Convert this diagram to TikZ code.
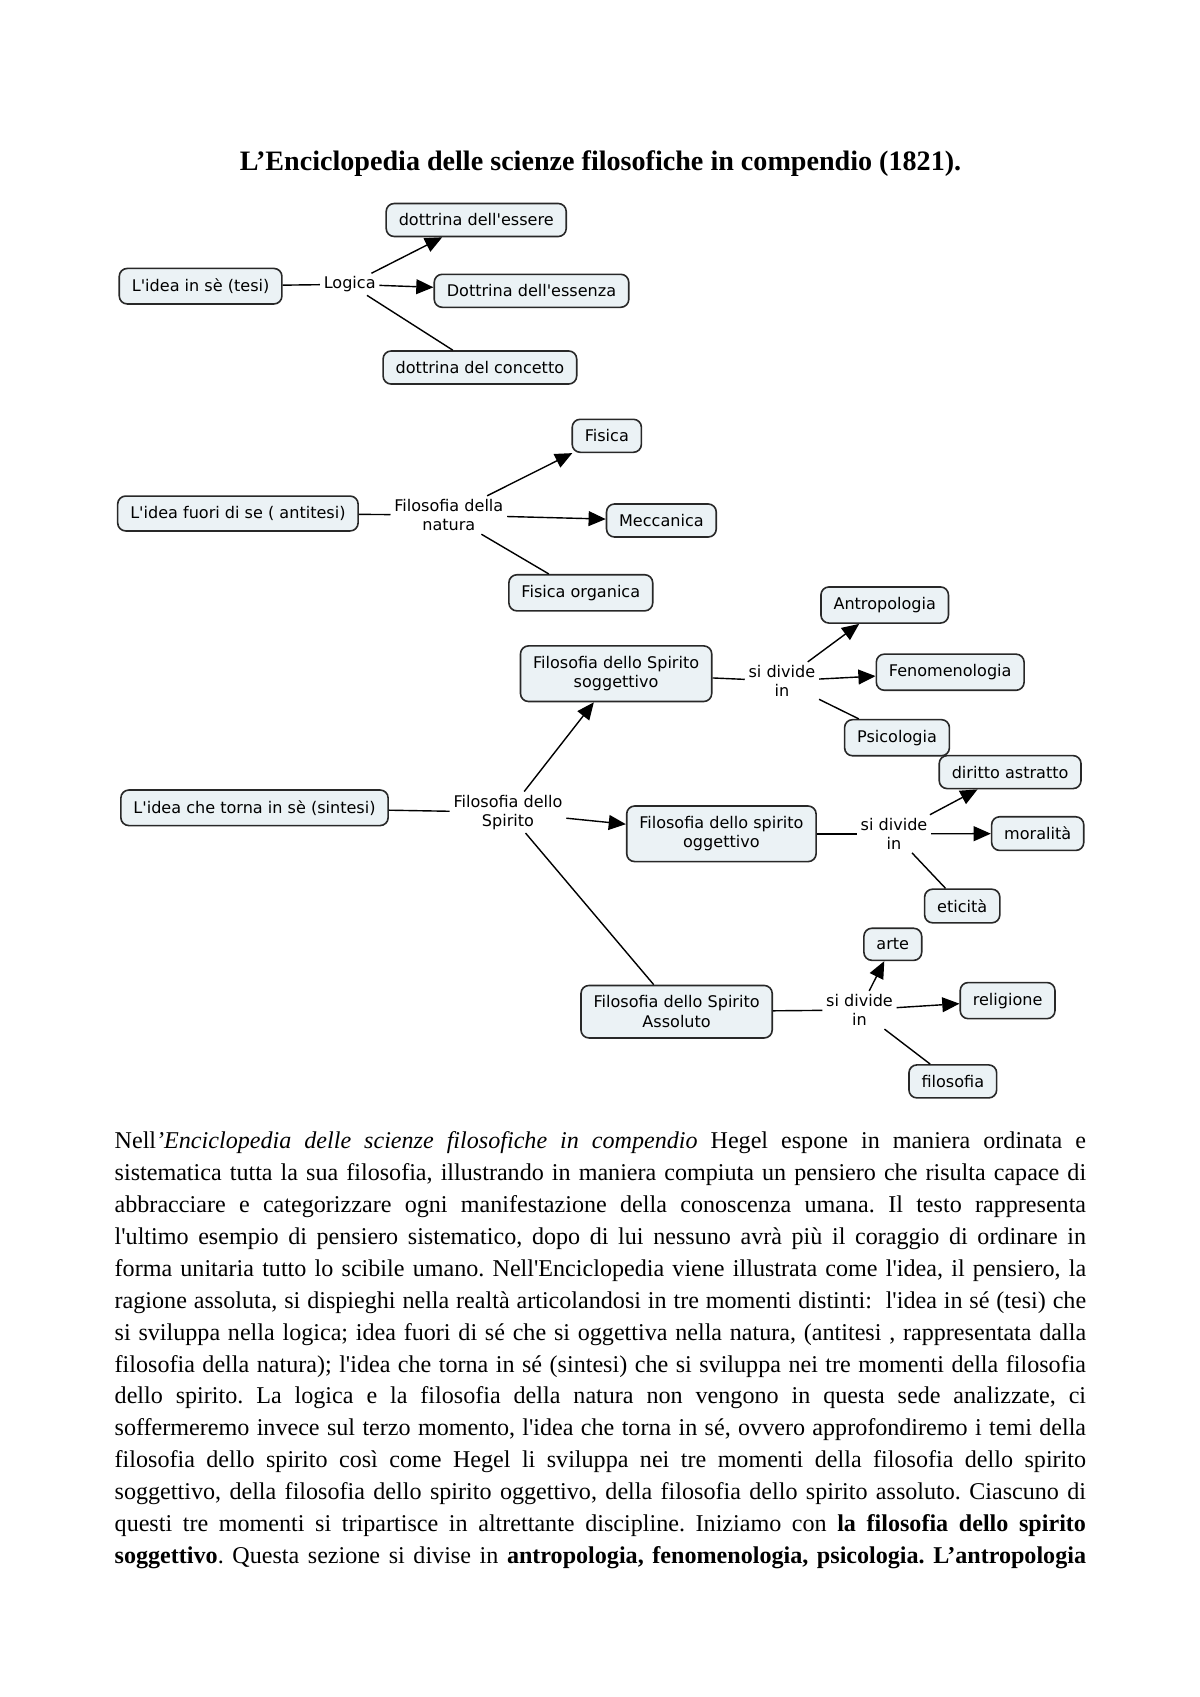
\documentclass[tikz,border=0pt]{standalone}
\usepackage{fontspec}
\setmainfont{Liberation Serif}[Ligatures=TeXOff]
\newfontfamily\mapfamily{DejaVu Sans}[Ligatures=TeXOff]
\usetikzlibrary{arrows.meta}
\definecolor{conceptfill}{RGB}{235,242,245}
\definecolor{conceptdraw}{RGB}{40,40,40}
\tikzset{
	>={Triangle[length=3mm, width=2.6mm]},
	every node/.append style={
		font=\mapfamily\fontsize{8pt}{9.7pt}\selectfont,
	},
	concept/.append style={
		draw=conceptdraw,
		fill=conceptfill,
		line width=0.8pt,
		rounded corners=1.4mm,
		align = center,
		inner xsep=2.2mm,
		inner ysep=1.8mm,
	},
	link/.append style={
		align = center,
		inner xsep=0.6mm,
		inner ysep=0.5mm,
	},
	conn/.append style={
		line width=0.7pt,
		draw=black,
	},
	page/.append style={
		font=\rmfamily\fontsize{12pt}{15.9pt}\selectfont,
		text width=170mm,
		align = justify,
		inner sep=0pt,
		anchor=base west,
	}
}

\begin{document}
\begin{tikzpicture}[x=0.0175cm, y=-0.0175cm]
		\path[fill=white] (0,0) rectangle (1200,1697);
		\node(titolo)[anchor=base, font=\rmfamily\bfseries\fontsize{14pt}{16pt}\selectfont] at (600.5,170) {L’Enciclopedia delle scienze filosofiche in compendio (1821).};

		% tesi
		\node(tesi)[concept] at (200.6,286.2) {L'idea in sè (tesi)};
		\node(logica)[link] at (349.7,284.3) {Logica};
		\node(essere)[concept] at (476.2,220) {dottrina dell'essere};
		\node(essenza)[concept] at (531.5,290.8) {Dottrina dell'essenza};
		\node(concetto)[concept] at (479.9,367.5) {dottrina del concetto};

		% antitesi
		\node(antitesi)[concept] at (237.9,513.5) {L'idea fuori di se ( antitesi)};
		\node(natura)[link] at (448.8,515) {Filosofia della\\natura};
		\node(fisica)[concept] at (606.8,435.8) {Fisica};
		\node(meccanica)[concept] at (661.4,520.5) {Meccanica};
		\node(organica)[concept] at (580.8,592.8) {Fisica organica};

		% sintesi
		\node(sintesi)[concept] at (254.5,807.8) {L'idea che torna in sè (sintesi)};
		\node(spirito)[link] at (508,812.3) {Filosofia dello\\Spirito};
		\node(soggettivo)[concept] at (616.1,673.7) {Filosofia dello Spirito\\soggettivo};
		\node(oggettivo)[concept] at (721.4,833.8) {Filosofia dello spirito\\oggettivo};
		\node(assoluto)[concept] at (676.6,1011.7) {Filosofia dello Spirito\\Assoluto};

		\node(divsog)[link] at (781.9,681) {si divide\\in};
		\node(antropologia)[concept] at (884.7,605) {Antropologia};
		\node(fenomenologia)[concept] at (950.2,672.2) {Fenomenologia};
		\node(psicologia)[concept] at (897,737.7) {Psicologia};

		\node(divogg)[link] at (894,833.8) {si divide\\in};
		\node(diritto)[concept] at (1010.1,772.1) {diritto astratto};
		\node(moralita)[concept] at (1037.7,833.6) {moralità};
		\node(eticita)[concept] at (962.2,906) {eticità};

		\node(divass)[link] at (859.5,1010) {si divide\\in};
		\node(arte)[concept] at (892.8,944.3) {arte};
		\node(religione)[concept] at (1007.6,1000.6) {religione};
		\node(filosofia)[concept] at (952.8,1081.4) {filosofia};

		\draw[conn] (tesi) edge (logica);
		\draw[conn, ->] (logica) edge (essere);
		\draw[conn, ->] (logica) edge (essenza);
		\draw[conn] (logica) edge (concetto);

		\draw[conn] (antitesi) edge (natura);
		\draw[conn, ->] (natura) edge (fisica);
		\draw[conn, ->] (natura) edge (meccanica);
		\draw[conn] (natura) edge (organica);

		\draw[conn] (sintesi) edge (spirito);
		\draw[conn, ->] (spirito) edge (soggettivo);
		\draw[conn, ->] (spirito) edge (oggettivo);
		\draw[conn] (spirito) edge (assoluto);

		\draw[conn] (soggettivo) edge (divsog);
		\draw[conn, ->] (divsog) edge (antropologia);
		\draw[conn, ->] (divsog) edge (fenomenologia);
		\draw[conn] (divsog) edge (psicologia);

		\draw[conn] (oggettivo) edge (divogg);
		\draw[conn, ->] (divogg) edge (diritto);
		\draw[conn, ->] (divogg) edge (moralita);
		\draw[conn] (divogg) edge (eticita);

		\draw[conn] (assoluto) edge (divass);
		\draw[conn, ->] (divass) edge (arte);
		\draw[conn, ->] (divass) edge (religione);
		\draw[conn] (divass) edge (filosofia);

		% testo
		\node(testo)[page] at (114.3,1148.5) {\frenchspacing\tolerance=9999\hyphenpenalty=10000
		Nell\textit{’Enciclopedia delle scienze filosofiche in compendio} Hegel espone in maniera ordinata e\linebreak
		sistematica tutta la sua filosofia, illustrando in maniera compiuta un pensiero che risulta capace di\linebreak
		abbracciare e categorizzare ogni manifestazione della conoscenza umana. Il testo rappresenta\linebreak
		l'ultimo esempio di pensiero sistematico, dopo di lui nessuno avrà più il coraggio di ordinare in\linebreak
		forma unitaria tutto lo scibile umano. Nell'Enciclopedia viene illustrata come l'idea, il pensiero, la\linebreak
		ragione assoluta, si dispieghi nella realtà articolandosi in tre momenti distinti:\ \ l'idea in sé (tesi) che\linebreak
		si sviluppa nella logica; idea fuori di sé che si oggettiva nella natura, (antitesi , rappresentata dalla\linebreak
		filosofia della natura); l'idea che torna in sé (sintesi) che si sviluppa nei tre momenti della filosofia\linebreak
		dello spirito. La logica e la filosofia della natura non vengono in questa sede analizzate, ci\linebreak
		soffermeremo invece sul terzo momento, l'idea che torna in sé, ovvero approfondiremo i temi della\linebreak
		filosofia dello spirito così come Hegel li sviluppa nei tre momenti della filosofia dello spirito\linebreak
		soggettivo, della filosofia dello spirito oggettivo, della filosofia dello spirito assoluto. Ciascuno di\linebreak
		questi tre momenti si tripartisce in altrettante discipline. Iniziamo con \textbf{la filosofia dello spirito}\linebreak
		\textbf{soggettivo}. Questa sezione si divise in \textbf{antropologia, fenomenologia, psicologia. L’antropologia}\linebreak};
		\end{tikzpicture}
\end{document}
